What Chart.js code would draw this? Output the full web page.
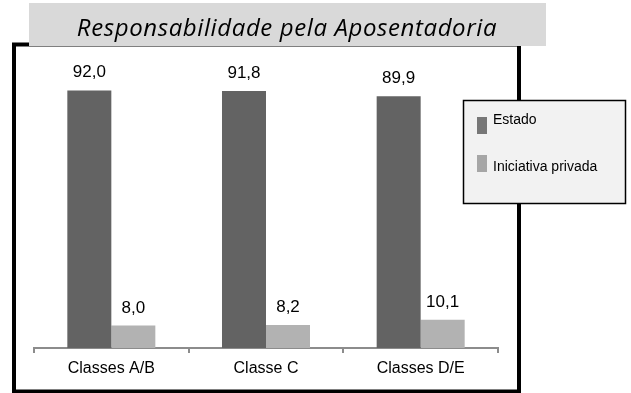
<!DOCTYPE html>
<html>
<head>
<meta charset="utf-8">
<script src="https://cdn.jsdelivr.net/npm/chart.js@4"></script>
<style>
  html, body { margin: 0; padding: 0; background: #fff; }
  #wrap { width: 631px; height: 393px; position: relative; }
</style>
</head>
<body>
<div id="wrap"><canvas id="chart" width="631" height="393"></canvas></div>
<script>
const titulo = 'Responsabilidade pela Aposentadoria';
const classes = ['Classes A/B', 'Classe C', 'Classes D/E'];
const estado = [92.0, 91.8, 89.9];
const iniciativaPrivada = [8.0, 8.2, 10.1];

const corEstado = '#636363';
const corPrivada = '#b2b2b2';

// moldura preta, caixa do título e legenda à direita
const moldura = {
  id: 'moldura',
  beforeDraw(chart) {
    const ctx = chart.ctx;
    ctx.save();
    ctx.strokeStyle = '#000';
    ctx.lineWidth = 4;
    ctx.strokeRect(14, 44.5, 505, 347);
    ctx.fillStyle = '#d9d9d9';
    ctx.fillRect(29, 3, 517, 43);
    ctx.fillStyle = '#000';
    ctx.font = 'italic 24px "Open Sans"';
    ctx.letterSpacing = '0.6px';
    ctx.textAlign = 'center';
    ctx.textBaseline = 'alphabetic';
    ctx.fillText(titulo, 287, 36);
    ctx.restore();
  },
  afterDraw(chart) {
    const ctx = chart.ctx;
    ctx.save();
    ctx.fillStyle = '#f2f2f2';
    ctx.fillRect(463, 100, 163, 104);
    ctx.strokeStyle = '#000';
    ctx.lineWidth = 1.5;
    ctx.strokeRect(463.5, 100.5, 162, 103);
    const swatch = ['#777777', '#a6a6a6'];
    ctx.font = '14px "Liberation Sans"';
    ctx.textBaseline = 'alphabetic';
    chart.data.datasets.forEach((ds, i) => {
      const y = 117 + i * 38;
      ctx.fillStyle = swatch[i];
      ctx.fillRect(477, y, 10, 17);
      ctx.fillStyle = '#000';
      ctx.fillText(ds.label, 493, y + 7 + i * 9);
    });
    ctx.restore();
  }
};

// rótulos de valor acima das barras, com vírgula decimal
const rotulos = {
  id: 'rotulos',
  afterDatasetsDraw(chart) {
    const ctx = chart.ctx;
    ctx.save();
    ctx.fillStyle = '#000';
    ctx.font = '17px "Liberation Sans"';
    ctx.textAlign = 'center';
    ctx.textBaseline = 'alphabetic';
    chart.data.datasets.forEach((ds, i) => {
      chart.getDatasetMeta(i).data.forEach((bar, j) => {
        const txt = ds.data[j].toFixed(1).replace('.', ',');
        ctx.fillText(txt, bar.x, bar.y - 13);
      });
    });
    ctx.restore();
  }
};

new Chart(document.getElementById('chart'), {
  type: 'bar',
  data: {
    labels: classes,
    datasets: [
      { label: 'Estado', data: estado, backgroundColor: corEstado },
      { label: 'Iniciativa privada', data: iniciativaPrivada, backgroundColor: corPrivada }
    ]
  },
  options: {
    responsive: false,
    animation: false,
    devicePixelRatio: 1,
    layout: { padding: { top: 68, left: 34, right: 133, bottom: 0 } },
    datasets: { bar: { barPercentage: 1, categoryPercentage: 0.569 } },
    plugins: {
      legend: { display: false },
      tooltip: { enabled: false },
      title: { display: false }
    },
    scales: {
      x: {
        afterFit(axis) { axis.height = 45; },
        grid: {
          offset: true,
          drawOnChartArea: false,
          drawTicks: true,
          tickLength: 5,
          color: '#8c8c8c',
          lineWidth: 2
        },
        border: { color: '#8c8c8c', width: 2 },
        ticks: {
          color: '#000',
          font: { family: '"Liberation Sans"', size: 16 },
          padding: 6,
          maxRotation: 0
        }
      },
      y: {
        display: false,
        min: 0,
        max: 100
      }
    }
  },
  plugins: [moldura, rotulos]
});
</script>
</body>
</html>
